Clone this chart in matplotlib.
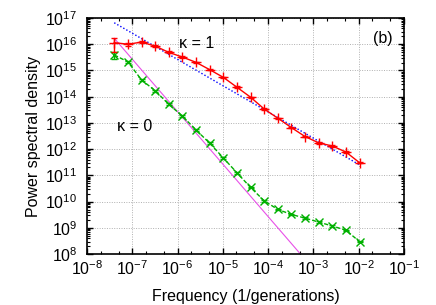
import numpy as np
import matplotlib
matplotlib.use("Agg")
import matplotlib.pyplot as plt
from matplotlib.ticker import LogLocator, NullFormatter

plt.rcParams['font.family'] = ['Liberation Sans', 'DejaVu Sans']
plt.rcParams['mathtext.fontset'] = 'custom'
plt.rcParams['mathtext.rm'] = 'Liberation Sans'
plt.rcParams['mathtext.default'] = 'regular'

# frequencies (1/generations), one point per octave
freq = [4.0e-8, 8.0e-8, 1.6e-7, 3.2e-7, 6.4e-7, 1.28e-6, 2.56e-6, 5.12e-6,
        1.02e-5, 2.05e-5, 4.1e-5, 8.2e-5, 1.64e-4, 3.28e-4, 6.55e-4,
        1.31e-3, 2.62e-3, 5.24e-3, 1.05e-2]

# log10 of power spectral density, kappa = 1 (red) and kappa = 0 (green)
red_log = [16.06, 16.00, 16.08, 15.93, 15.69, 15.51, 15.31, 15.03, 14.74,
           14.36, 13.98, 13.53, 13.18, 12.82, 12.48, 12.24, 12.12, 11.89, 11.48]
green_log = [15.59, 15.33, 14.64, 14.23, 13.71, 13.26, 12.73, 12.23, 11.67,
             11.10, 10.54, 10.03, 9.70, 9.51, 9.37, 9.22, 9.07, 8.91, 8.47]

# relative error bar half-widths
red_rel = [0.55, 0.12, 0.10, 0.10, 0.08, 0.07, 0.07, 0.07, 0.07, 0.07,
           0.06, 0.06, 0.06, 0.06, 0.06, 0.06, 0.06, 0.06, 0.06]
green_rel = [0.32, 0.12, 0.10, 0.08, 0.08, 0.07, 0.07, 0.07, 0.07, 0.07,
             0.06, 0.06, 0.06, 0.06, 0.06, 0.06, 0.06, 0.06, 0.06]

# reference power laws: S = A * f^slope
blue_log_amp, blue_slope = 9.42, -1.0
mag_log_amp, mag_slope = 1.43, -2.0

freq = np.array(freq)
red = 10 ** np.array(red_log)
green = 10 ** np.array(green_log)

fig = plt.figure(figsize=(4.36, 3.05), dpi=100)
ax = fig.add_axes([0.1995, 0.167, 0.727, 0.774])

fline = np.array([freq[0], freq[-1]])
ax.plot(fline, 10 ** blue_log_amp * fline ** blue_slope, color='#0000ff',
        ls=(0, (1, 1.5)), lw=1.0, zorder=2)
fmag = np.array([freq[0], 1e-2])
ax.plot(fmag, 10 ** mag_log_amp * fmag ** mag_slope, color='#e850e8',
        lw=0.8, zorder=2)

ax.errorbar(freq, red, yerr=red * np.array(red_rel), color='#ff0000',
            marker='+', ms=7, mew=1.0, lw=1.0, capsize=2.5, elinewidth=1.0, zorder=4)
ax.errorbar(freq, green, yerr=green * np.array(green_rel), color='#00b000',
            marker='x', ms=5.5, mew=1.0, lw=1.0, ls=(0, (3, 1.5)),
            capsize=2.5, elinewidth=1.0, zorder=3)

ax.set_xscale('log')
ax.set_yscale('log')
ax.set_xlim(1e-8, 1e-1)
ax.set_ylim(1e8, 1e17)

ax.set_xticks([10.0 ** k for k in range(-8, 0)])
ax.set_xticklabels(['$10^{%d}$' % k for k in range(-8, 0)])
ax.set_yticks([10.0 ** k for k in range(8, 18)])
ax.set_yticklabels(['$10^{%d}$' % k for k in range(8, 18)])
ax.xaxis.set_minor_locator(LogLocator(base=10, subs=(2.0, 5.0), numticks=20))
ax.yaxis.set_minor_locator(LogLocator(base=10, subs=np.arange(2, 10), numticks=20))
ax.xaxis.set_minor_formatter(NullFormatter())
ax.yaxis.set_minor_formatter(NullFormatter())

ax.tick_params(which='both', direction='in', top=True, right=True, labelsize=11.5)
ax.tick_params(which='major', length=4, width=1.0)
ax.tick_params(axis='y', which='major', pad=7)
ax.tick_params(axis='x', which='major', pad=4)
ax.tick_params(which='minor', length=2, width=0.8)
ax.grid(True, which='major', color='#b0b0b0', ls=(0, (1, 1.5)), lw=0.7)
for s in ax.spines.values():
    s.set_linewidth(1.2)

ax.set_xlabel('Frequency (1/generations)', fontsize=11.5, labelpad=8)
ax.set_ylabel('Power spectral density', fontsize=11.5, labelpad=3)

ax.text(2.6e-6, 1.1e16, 'κ = 1', fontsize=11.5, ha='center', va='center')
ax.text(1.1e-7, 7.5e12, 'κ = 0', fontsize=11.5, ha='center', va='center')
ax.text(0.035, 1.6e16, '(b)', fontsize=11.5, ha='center', va='center')

fig.savefig('out.png', dpi=100)
